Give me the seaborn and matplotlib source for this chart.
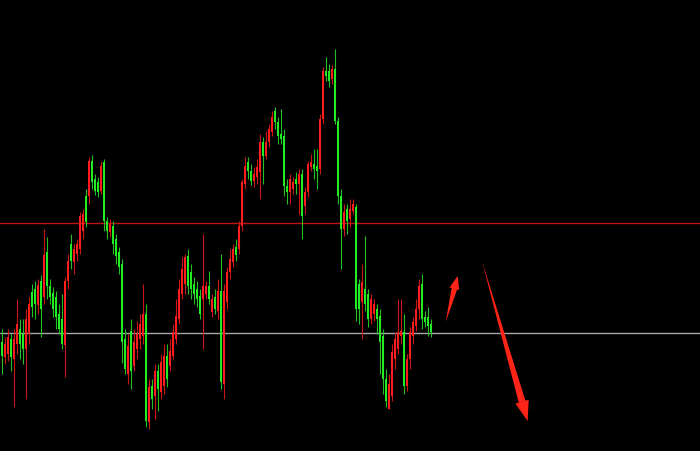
import numpy as np
import pandas as pd
import matplotlib
matplotlib.use("Agg")
import matplotlib.pyplot as plt
import seaborn as sns

# ---- data (price units) ----
opens = [109, 94, 97, 112, 92, 107, 122, 117, 102, 117, 159, 162, 146, 170, 154, 199, 165, 158, 154, 137,
         132, 106, 170, 207, 189, 197, 202, 220, 255, 255, 290, 272, 269, 260, 289, 230, 219, 225, 212, 199,
         187, 112, 77, 120, 85, 102, 112, 115, 137, 29, 65, 55, 80, 59, 65, 95, 85, 95, 112, 132,
         157, 167, 195, 179, 167, 162, 155, 152, 157, 165, 139, 154, 140, 160, 67, 149, 179, 189, 204, 202,
         225, 267, 289, 280, 270, 274, 279, 309, 295, 309, 319, 340, 329, 317, 315, 265, 259, 262, 272, 267,
         277, 245, 259, 284, 287, 285, 282, 332, 380, 380, 372, 382, 330, 255, 222, 242, 232, 240, 244, 167,
         149, 162, 157, 132, 137, 142, 135, 115, 72, 42, 55, 92, 102, 115, 119, 65, 92, 115, 125, 142,
         167, 134, 134, 127]
closes = [95, 107, 114, 94, 112, 127, 107, 102, 132, 147, 144, 147, 166, 142, 196, 165, 154, 142, 134, 122,
          107, 170, 190, 190, 202, 207, 235, 237, 229, 290, 269, 260, 259, 285, 230, 220, 227, 207, 195, 184,
          109, 82, 105, 80, 109, 117, 127, 137, 30, 64, 52, 80, 62, 89, 95, 72, 100, 119, 135, 162,
          182, 194, 165, 162, 157, 152, 137, 165, 165, 152, 152, 142, 160, 69, 160, 179, 192, 202, 196, 225,
          269, 285, 280, 270, 277, 284, 309, 295, 309, 322, 334, 329, 315, 312, 265, 259, 272, 269, 267, 277,
          235, 259, 287, 289, 282, 280, 332, 380, 375, 370, 382, 330, 255, 222, 239, 230, 242, 247, 142, 142,
          169, 147, 132, 152, 147, 132, 109, 72, 50, 67, 99, 112, 119, 120, 65, 92, 119, 129, 142, 165,
          132, 129, 125, 119]
highs = [122, 114, 122, 117, 122, 152, 132, 132, 142, 154, 167, 170, 172, 176, 222, 214, 172, 164, 160, 147,
         157, 174, 197, 217, 207, 212, 239, 242, 262, 294, 296, 277, 274, 290, 292, 234, 232, 230, 217, 204,
         192, 122, 117, 132, 122, 130, 137, 167, 147, 72, 72, 87, 87, 97, 107, 107, 112, 127, 152, 172,
         194, 197, 202, 187, 174, 170, 162, 217, 170, 180, 157, 162, 172, 197, 167, 184, 202, 207, 212, 230,
         272, 294, 294, 287, 284, 292, 317, 314, 320, 327, 340, 344, 334, 342, 322, 272, 277, 274, 279, 282,
         282, 264, 290, 297, 302, 302, 337, 384, 394, 387, 386, 402, 334, 262, 247, 247, 252, 252, 247, 172,
         187, 215, 162, 157, 152, 147, 142, 122, 82, 77, 107, 119, 152, 152, 137, 97, 124, 134, 152, 172,
         177, 140, 144, 132]
lows = [77, 87, 90, 80, 44, 97, 92, 87, 52, 107, 134, 132, 137, 114, 147, 152, 147, 134, 122, 117,
        102, 74, 162, 182, 177, 190, 197, 212, 224, 247, 262, 256, 254, 257, 220, 212, 214, 197, 187, 177,
        88, 77, 67, 62, 80, 92, 102, 107, 24, 22, 42, 32, 40, 52, 57, 64, 80, 92, 107, 127,
        152, 157, 157, 152, 147, 144, 132, 102, 152, 147, 134, 137, 132, 62, 52, 142, 172, 184, 190, 197,
        220, 262, 272, 266, 264, 267, 252, 267, 292, 304, 315, 322, 307, 307, 255, 247, 247, 257, 257, 237,
        212, 237, 254, 280, 272, 262, 277, 327, 370, 364, 367, 327, 247, 182, 215, 217, 224, 237, 130, 127,
        112, 140, 124, 127, 130, 117, 77, 57, 44, 42, 50, 82, 97, 107, 57, 60, 82, 107, 120, 132,
        122, 124, 115, 114]

resistance_level = 228
support_level = 118

# arrows: (tail_x, tail_y, tip_x, tip_y) in candle-index / price units
small_arrow = (147.9, 129, 151.9, 175)
big_arrow = (160.0, 190, 175.2, 30)

# ---- style ----
sns.set_theme(style="dark", rc={"axes.facecolor": "black", "figure.facecolor": "black"})

df = pd.DataFrame({"open": opens, "high": highs, "low": lows, "close": closes})
df["idx"] = np.arange(len(df))
df["up"] = df["close"] >= df["open"]

body_up = "#ff1c1c"
body_dn = "#22ec22"
wick_up = "#cc1616"
wick_dn = "#22c022"

fig = plt.figure(figsize=(7.0, 4.52), dpi=100)
ax = fig.add_axes([0, 0, 1, 1])
ax.set_facecolor("black")

ax.axhline(resistance_level, color="#c01414", lw=1.0, zorder=1)
ax.axhline(support_level, color="#a8a8a8", lw=1.0, zorder=1)

wick_colors = np.where(df["up"], wick_up, wick_dn)
ax.vlines(df["idx"], df["low"], df["high"], colors=wick_colors, lw=0.8, zorder=2)

body_bottom = np.minimum(df["open"], df["close"])
body_height = np.abs(df["close"] - df["open"]).clip(lower=1.5)
body_colors = np.where(df["up"], body_up, body_dn)
ax.bar(df["idx"], body_height, bottom=body_bottom, width=0.85, color=body_colors,
       linewidth=0, zorder=3)

arrow_red = "#ff2418"
# (arrow, head fraction of length, head length, head half-width, shaft width) in mutation units
for (tx, ty, hx, hy), frac, hl, hw, tw in [(small_arrow, 0.26, 0.95, 0.36, 0.42),
                                           (big_arrow, 0.12, 1.45, 0.5, 0.5)]:
    bx = hx + (tx - hx) * frac
    by = hy + (ty - hy) * frac
    # tapered shaft: wide at the head base, pointed at the tail
    ax.annotate("", xy=(tx, ty), xytext=(bx, by),
                arrowprops=dict(arrowstyle=f"wedge,tail_width={tw},shrink_factor=0.5",
                                color=arrow_red, lw=0, shrinkA=0, shrinkB=0,
                                mutation_scale=10), zorder=4)
    # head
    ax.annotate("", xy=(hx, hy), xytext=(bx, by),
                arrowprops=dict(arrowstyle=f"-|>,head_length={hl},head_width={hw}",
                                color=arrow_red, lw=0, shrinkA=0, shrinkB=0,
                                mutation_scale=10), zorder=4)

ax.set_xlim(-0.67, 232.67)
ax.set_ylim(0, 452)
ax.axis("off")

fig.savefig("out.png", dpi=100, facecolor="black")
